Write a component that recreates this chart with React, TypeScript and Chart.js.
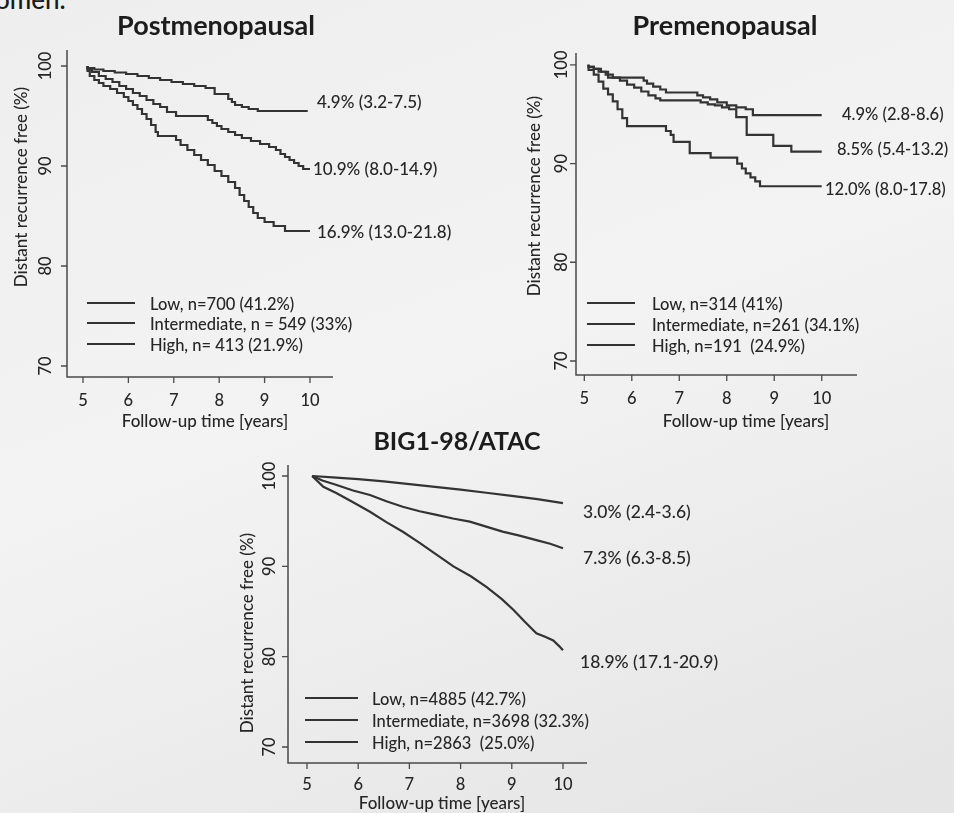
import React, { useEffect, useRef } from "react";
import { Chart, registerables } from "chart.js";
Chart.register(...registerables);

// ---------- shared ticks ----------
const yTickValues = [70, 80, 90, 100];
const xTickValues = [5, 6, 7, 8, 9, 10];
const xAxisTitle = "Follow-up time [years]";
const yAxisTitle = "Distant recurrence free (%)";
const cornerText = "omen.";

// ---------- Postmenopausal ----------
const postTitle = "Postmenopausal";
const postLowT = [5.1, 5.25, 5.45, 5.7, 5.95, 6.2, 6.45, 6.7, 6.95, 7.2, 7.45, 7.7, 7.9, 8.2, 8.28, 8.35, 8.5, 8.65, 8.85, 9.1, 9.95];
const postLowV = [100, 99.8, 99.65, 99.5, 99.35, 99.2, 99.0, 98.8, 98.6, 98.4, 98.2, 98.0, 97.8, 97.2, 96.7, 96.4, 96.1, 95.9, 95.7, 95.5, 95.5];
const postIntT = [5.1, 5.2, 5.35, 5.5, 5.65, 5.8, 5.95, 6.1, 6.25, 6.4, 6.55, 6.7, 6.85, 7.05, 7.75, 7.85, 7.95, 8.05, 8.2, 8.35, 8.5, 8.7, 8.9, 9.1, 9.25, 9.35, 9.45, 9.55, 9.65, 9.75, 9.85, 9.95, 10.0];
const postIntV = [100, 99.7, 99.4, 99.0, 98.7, 98.4, 98.0, 97.7, 97.3, 97.0, 96.6, 96.2, 95.9, 95.4, 95.0, 94.6, 94.3, 94.0, 93.7, 93.4, 93.1, 92.8, 92.5, 92.2, 91.9, 91.6, 91.2, 90.9, 90.6, 90.3, 90.0, 89.7, 89.7];
const postHighT = [5.1, 5.15, 5.25, 5.35, 5.45, 5.6, 5.75, 5.9, 6.0, 6.1, 6.2, 6.3, 6.4, 6.5, 6.6, 6.65, 7.05, 7.15, 7.3, 7.45, 7.6, 7.75, 7.9, 8.05, 8.2, 8.35, 8.45, 8.55, 8.65, 8.75, 8.85, 9.0, 9.2, 9.45, 9.75, 10.0];
const postHighV = [100, 99.5, 99.0, 98.6, 98.3, 98.0, 97.7, 97.3, 96.9, 96.5, 96.1, 95.7, 95.2, 94.7, 94.1, 93.4, 93.0, 92.6, 92.1, 91.6, 91.1, 90.6, 90.1, 89.5, 89.0, 88.4, 87.8, 87.1, 86.5, 85.9, 85.3, 84.8, 84.4, 84.0, 83.5, 83.5];
const postLegend = ["Low, n=700 (41.2%)", "Intermediate, n = 549 (33%)", "High, n= 413 (21.9%)"];
const postEndLabels = ["4.9% (3.2-7.5)", "10.9% (8.0-14.9)", "16.9% (13.0-21.8)"];

// ---------- Premenopausal ----------
const preTitle = "Premenopausal";
const preLowT = [5.09, 5.2, 5.35, 5.5, 6.25, 6.32, 6.45, 6.6, 6.72, 7.38, 7.5, 7.65, 7.8, 8.0, 8.2, 8.4, 8.55, 9.33, 10.0];
const preLowV = [100, 99.8, 99.6, 99.3, 98.7, 98.4, 98.1, 97.8, 97.5, 97.2, 96.9, 96.7, 96.5, 96.2, 95.9, 95.7, 95.5, 94.9, 94.9];
const preIntT = [5.09, 5.2, 5.3, 5.45, 5.6, 5.75, 5.9, 6.05, 6.2, 6.35, 6.5, 6.6, 7.45, 7.6, 7.75, 7.9, 8.05, 8.2, 8.42, 8.98, 9.36, 9.92, 10.0];
const preIntV = [100, 99.8, 99.6, 99.3, 99.0, 98.7, 98.4, 98.0, 97.7, 97.3, 96.9, 96.6, 96.4, 96.2, 96.0, 95.9, 95.7, 95.5, 94.7, 92.9, 91.8, 91.2, 91.2];
const preHighT = [5.09, 5.2, 5.3, 5.4, 5.5, 5.6, 5.7, 5.8, 5.9, 6.72, 6.82, 6.88, 7.22, 7.66, 8.22, 8.32, 8.4, 8.5, 8.6, 8.7, 8.82, 10.0];
const preHighV = [100, 99.5, 99.0, 98.3, 97.6, 97.0, 96.3, 95.5, 94.6, 93.8, 93.3, 92.9, 92.2, 91.05, 90.6, 90.0, 89.5, 89.0, 88.6, 88.2, 87.7, 87.7];
const preLegend = ["Low, n=314 (41%)", "Intermediate, n=261 (34.1%)", "High, n=191  (24.9%)"];
const preEndLabels = ["4.9% (2.8-8.6)", "8.5% (5.4-13.2)", "12.0% (8.0-17.8)"];

// ---------- BIG1-98/ATAC ----------
const bigTitle = "BIG1-98/ATAC";
const bigLowT = [5.1, 5.5, 6.0, 6.5, 7.0, 7.5, 8.0, 8.5, 9.0, 9.5, 10.0];
const bigLowV = [100, 99.85, 99.65, 99.4, 99.1, 98.8, 98.5, 98.15, 97.8, 97.45, 97.0];
const bigIntT = [5.1, 5.3, 5.58, 5.9, 6.23, 6.55, 6.87, 7.2, 7.53, 7.85, 8.18, 8.5, 8.82, 9.15, 9.48, 9.75, 10.0];
const bigIntV = [100, 99.5, 99.0, 98.4, 97.9, 97.2, 96.6, 96.1, 95.7, 95.3, 94.95, 94.4, 93.85, 93.4, 92.9, 92.5, 92.0];
const bigHighT = [5.1, 5.32, 5.58, 5.9, 6.23, 6.55, 6.88, 7.2, 7.53, 7.86, 8.2, 8.51, 8.8, 9.03, 9.25, 9.48, 9.65, 9.81, 9.92, 10.0];
const bigHighV = [100, 98.8, 98.1, 97.1, 96.05, 94.9, 93.8, 92.6, 91.3, 90.0, 88.9, 87.7, 86.4, 85.2, 83.9, 82.6, 82.2, 81.8, 81.2, 80.7];
const bigLegend = ["Low, n=4885 (42.7%)", "Intermediate, n=3698 (32.3%)", "High, n=2863  (25.0%)"];
const bigEndLabels = ["3.0% (2.4-3.6)", "7.3% (6.3-8.5)", "18.9% (17.1-20.9)"];

const W = 954;
const H = 813;
const INK = "#262626";
const LINE = "#333333";
const FONT = "Lato, 'Open Sans', sans-serif";
const WT = "500";

type Panel = {
  title: string;
  series: [number[], number[]][];
  stepped: boolean;
  legend: string[];
  endLabels: string[];
  area: { left: number; top: number; right: number; bottom: number };
  xRange: [number, number];
  yRange: [number, number];
  lay: any;
};

const panels: Panel[] = [
  {
    title: postTitle,
    series: [[postLowT, postLowV], [postIntT, postIntV], [postHighT, postHighV]],
    stepped: true,
    legend: postLegend,
    endLabels: postEndLabels,
    area: { left: 67, top: 50, right: 333, bottom: 377 },
    xRange: [4.648, 10.507],
    yRange: [68.9, 101.6],
    lay: {
      titleX: 216, titleY: 26, titleSize: 27, yTickX: 46, xTickY: 401, xTitleX: 205, xTitleY: 422,
      yTitleX: 22, yTitleY: 187, legX1: 87, legX2: 135, legTextX: 150, legRows: [305, 325, 346],
      endPos: [[317, 103], [313, 170], [317, 233]], endSize: 17,
    },
  },
  {
    title: preTitle,
    series: [[preLowT, preLowV], [preIntT, preIntV], [preHighT, preHighV]],
    stepped: true,
    legend: preLegend,
    endLabels: preEndLabels,
    area: { left: 576, top: 53, right: 857, bottom: 375 },
    xRange: [4.825, 10.743],
    yRange: [68.58, 101.2],
    lay: {
      titleX: 725, titleY: 26, titleSize: 27, yTickX: 562, xTickY: 399, xTitleX: 746, xTitleY: 422,
      yTitleX: 535, yTitleY: 196, legX1: 587, legX2: 635, legTextX: 652, legRows: [305, 326, 347],
      endPos: [[842, 115], [837, 150], [825, 190]], endSize: 16.5,
    },
  },
  {
    title: bigTitle,
    series: [[bigLowT, bigLowV], [bigIntT, bigIntV], [bigHighT, bigHighV]],
    stepped: false,
    legend: bigLegend,
    endLabels: bigEndLabels,
    area: { left: 288, top: 465, right: 587, bottom: 763 },
    xRange: [4.629, 10.469],
    yRange: [68.23, 101.22],
    lay: {
      titleX: 457, titleY: 442, titleSize: 25, yTickX: 270, xTickY: 785, xTitleX: 442, xTitleY: 804,
      yTitleX: 248, yTitleY: 633, legX1: 305, legX2: 358, legTextX: 372, legRows: [700, 722, 744],
      endPos: [[583, 512], [583, 558], [580, 662]], endSize: 17.5,
    },
  },
];

const decorPlugin = {
  id: "kmDecor",
  afterDraw(chart: any, _args: any, opts: any) {
    const p: Panel = opts.panel;
    if (!p) return;
    const L = p.lay;
    const ctx = chart.ctx;
    const xs = chart.scales.x;
    const ys = chart.scales.y;
    const a = chart.chartArea;
    ctx.save();
    // axes
    ctx.strokeStyle = "#4a4a4a";
    ctx.lineWidth = 1.5;
    ctx.beginPath();
    ctx.moveTo(a.left, a.top);
    ctx.lineTo(a.left, a.bottom);
    ctx.lineTo(a.right, a.bottom);
    ctx.stroke();
    ctx.lineWidth = 1.3;
    ctx.beginPath();
    yTickValues.forEach((v) => {
      const y = ys.getPixelForValue(v);
      ctx.moveTo(a.left, y);
      ctx.lineTo(a.left - 6, y);
    });
    xTickValues.forEach((v) => {
      const x = xs.getPixelForValue(v);
      ctx.moveTo(x, a.bottom);
      ctx.lineTo(x, a.bottom + 6);
    });
    ctx.stroke();

    ctx.fillStyle = INK;
    // y tick labels (rotated)
    ctx.font = `${WT} 16.5px ${FONT}`;
    ctx.textAlign = "center";
    ctx.textBaseline = "middle";
    yTickValues.forEach((v) => {
      const y = ys.getPixelForValue(v);
      ctx.save();
      ctx.translate(L.yTickX, y);
      ctx.rotate(-Math.PI / 2);
      ctx.fillText(String(v), 0, 0);
      ctx.restore();
    });
    // x tick labels
    ctx.font = `${WT} 16.5px ${FONT}`;
    xTickValues.forEach((v) => {
      ctx.fillText(String(v), xs.getPixelForValue(v), L.xTickY);
    });
    // axis titles
    ctx.font = `${WT} 17px ${FONT}`;
    ctx.fillText(xAxisTitle, L.xTitleX, L.xTitleY);
    ctx.save();
    ctx.translate(L.yTitleX, L.yTitleY);
    ctx.rotate(-Math.PI / 2);
    ctx.font = `${WT} 17px ${FONT}`;
    ctx.fillText(yAxisTitle, 0, 0);
    ctx.restore();
    // title
    ctx.font = `bold ${L.titleSize}px ${FONT}`;
    ctx.fillStyle = "#1c1c1c";
    ctx.fillText(p.title, L.titleX, L.titleY);
    // legend
    ctx.fillStyle = INK;
    ctx.font = `${WT} 16.5px ${FONT}`;
    ctx.textAlign = "left";
    ctx.strokeStyle = LINE;
    ctx.lineWidth = 2;
    p.legend.forEach((t, i) => {
      const y = L.legRows[i];
      ctx.beginPath();
      ctx.moveTo(L.legX1, y - 2);
      ctx.lineTo(L.legX2, y - 2);
      ctx.stroke();
      ctx.fillText(t, L.legTextX, y);
    });
    // end labels
    ctx.font = `${WT} ${L.endSize}px ${FONT}`;
    p.endLabels.forEach((t, i) => {
      ctx.fillText(t, L.endPos[i][0], L.endPos[i][1]);
    });
    ctx.restore();
  },
};

function KMPanel({ panel }: { panel: Panel }) {
  const ref = useRef<HTMLCanvasElement | null>(null);
  useEffect(() => {
    if (!ref.current) return;
    const a = panel.area;
    const chart = new Chart(ref.current, {
      type: "line",
      data: {
        datasets: panel.series.map(([t, v], i) => ({
          label: panel.legend[i],
          data: t.map((tt, k) => ({ x: tt, y: v[k] })),
          borderColor: LINE,
          borderWidth: 2.2,
          pointRadius: 0,
          fill: false,
          tension: 0,
          stepped: panel.stepped ? "after" : false,
        })),
      },
      options: {
        animation: false,
        responsive: false,
        events: [],
        layout: { padding: { left: a.left, top: a.top, right: W - a.right, bottom: H - a.bottom } },
        scales: {
          x: { type: "linear", display: false, min: panel.xRange[0], max: panel.xRange[1] },
          y: { type: "linear", display: false, min: panel.yRange[0], max: panel.yRange[1] },
        },
        plugins: {
          legend: { display: false },
          tooltip: { enabled: false },
          kmDecor: { panel },
        } as any,
      },
      plugins: [decorPlugin],
    } as any);
    return () => chart.destroy();
  }, [panel]);
  return (
    <canvas
      ref={ref}
      width={W}
      height={H}
      style={{ position: "absolute", left: 0, top: 0, width: W, height: H }}
    />
  );
}

export default function App() {
  return (
    <div
      style={{
        position: "fixed",
        left: 0,
        top: 0,
        width: W,
        height: H,
        overflow: "hidden",
        background: "linear-gradient(160deg, #eeeeee 0%, #f3f3f3 45%, #e4e4e4 100%)",
      }}
    >
      <div
        style={{
          position: "absolute",
          left: -5,
          top: -17,
          font: `500 26px ${FONT}`,
          color: "#1a1a1a",
        }}
      >
        {cornerText}
      </div>
      {panels.map((p, i) => (
        <KMPanel key={i} panel={p} />
      ))}
    </div>
  );
}
